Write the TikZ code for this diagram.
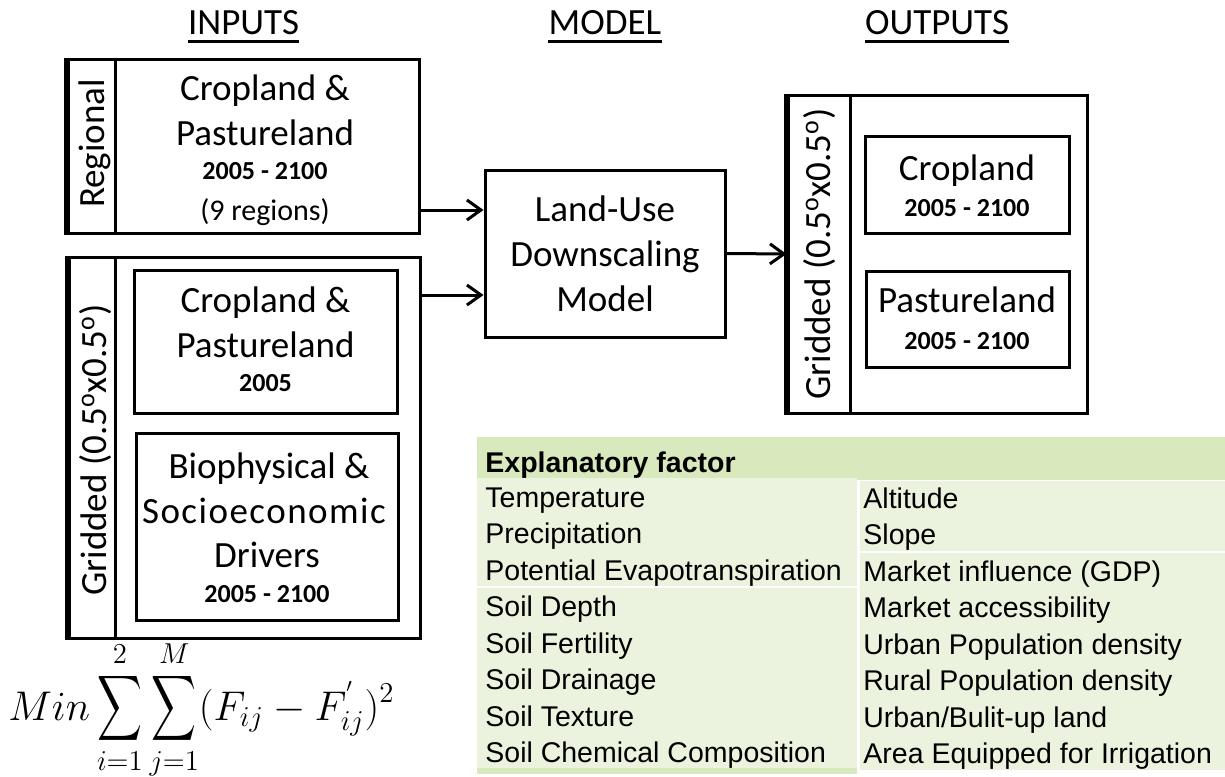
\documentclass[tikz,border=0pt]{standalone}
\usepackage{amsmath}
\usepackage{fontspec}
\setmainfont{Carlito}
\newfontfamily\tablefont{Liberation Sans}
\usetikzlibrary{arrows.meta,positioning}
\definecolor{hdrgreen}{RGB}{216,233,189}
\definecolor{cellgreen}{RGB}{235,243,222}
\newcommand{\bigsum}{\mathop{\scalebox{0.75}[1.1]{$\displaystyle\sum$}}\limits}

\begin{document}
\begin{tikzpicture}[x=0.5pt,y=-0.5pt,
  box/.style={draw,line width=1.5pt,rectangle,inner sep=0pt},
  big/.style={font=\fontsize{18.5}{22}\selectfont,inner sep=0pt,anchor=base},
  yr/.style={font=\fontsize{13}{15}\selectfont\bfseries,inner sep=0pt,anchor=base},
  sm/.style={font=\fontsize{15}{18}\selectfont,inner sep=0pt,anchor=base},
  side/.style={big,rotate=90,anchor=center},
  cell/.style={font=\tablefont\fontsize{14.25}{17}\selectfont,inner sep=0pt,anchor=base west},
  arr/.style={line width=1.5pt,-{Straight Barb[length=7pt,width=10pt]}}]
  \useasboundingbox (0,0) rectangle (1225,776);

  % --- Column titles ---
  \node[big] (tin)  at (243.5,34) {INPUTS};
  \node[big] (tmod) at (605,34)   {MODEL};
  \node[big] (tout) at (937,34)   {OUTPUTS};
  \foreach \t in {tin,tmod,tout}
    \draw[line width=1.3pt] ([yshift=-3.5pt]\t.south west) -- ([yshift=-3.5pt]\t.south east);

  % --- Inputs: regional ---
  \node[box,minimum width=175.5pt,minimum height=87pt] (regbox) at (243.5,146) {};
  \draw[line width=2.5pt] (regbox.north west) -- (regbox.south west);
  \draw[line width=1.5pt] ([xshift=24.5pt]regbox.north west) -- ([xshift=24.5pt]regbox.south west);
  \node[side] (lreg) at (95,143.5) {Regional};
  \node[big] (reg1) at (265,100) {Cropland \&};
  \node[big] (reg2) at (265,145) {Pastureland};
  \node[yr]  (reg3) at (265,179) {2005 - 2100};
  \node[sm]  (reg4) at (265,220) {(9 regions)};

  % --- Inputs: gridded ---
  \node[box,minimum width=175.5pt,minimum height=190.5pt] (gridbox) at (244.5,447.5) {};
  \draw[line width=2.5pt] (gridbox.north west) -- (gridbox.south west);
  \draw[line width=1.5pt] ([xshift=24pt]gridbox.north west) -- ([xshift=24pt]gridbox.south west);
  \node[side] (lgrid) at (96,450) {Gridded (0.5\textsuperscript{o}x0.5\textsuperscript{o})};
  \node[box,minimum width=131.5pt,minimum height=71.5pt] (cpbox) at (265.5,341.5) {};
  \node[big] (cp1) at (265.5,312) {Cropland \&};
  \node[big] (cp2) at (265.5,357) {Pastureland};
  \node[yr]  (cp3) at (265.5,391) {2005};
  \node[box,minimum width=131pt,minimum height=93.5pt] (drvbox) at (267,526.5) {};
  \node[big] (drv1) at (269,478) {Biophysical \&};
  \node[big,font=\fontsize{18.5}{22}\selectfont\addfontfeature{LetterSpace=4}] (drv2) at (264,523) {Socioeconomic};
  \node[big] (drv3) at (267,567) {Drivers};
  \node[yr]  (drv4) at (267,602) {2005 - 2100};

  % --- Model ---
  \node[box,minimum width=120pt,minimum height=83.5pt] (model) at (605,253.5) {};
  \node[big] (mod1) at (605,221) {Land-Use};
  \node[big] (mod2) at (605,266) {Downscaling};
  \node[big] (mod3) at (605,311) {Model};

  % --- Outputs ---
  \node[box,minimum width=149.5pt,minimum height=159pt] (outbox) at (937.5,254) {};
  \draw[line width=2.5pt] (outbox.north west) -- (outbox.south west);
  \draw[line width=1.5pt] ([xshift=32pt]outbox.north west) -- ([xshift=32pt]outbox.south west);
  \node[side] (lout) at (820,254) {Gridded (0.5\textsuperscript{o}x0.5\textsuperscript{o})};
  \node[box,minimum width=102pt,minimum height=48.5pt] (cropbox) at (967,184.5) {};
  \node[big] (crop1) at (967,180) {Cropland};
  \node[yr]  (crop2) at (967,216) {2005 - 2100};
  \node[box,minimum width=101.5pt,minimum height=48pt] (pastbox) at (967.5,319) {};
  \node[big] (past1) at (967,312) {Pastureland};
  \node[yr]  (past2) at (967,349) {2005 - 2100};

  % --- Connectors ---
  \coordinate (a1) at ([yshift=-32pt]regbox.east);
  \coordinate (a2) at ([yshift=76.25pt]gridbox.east);
  \draw[arr] (a1) -- (a1 -| model.west);
  \draw[arr] (a2) -- (a2 -| model.west);
  \draw[arr] (model.east) -- (outbox.west);

  % --- Objective ---
  \node[anchor=base west,inner sep=0pt,font=\fontsize{20}{24}\selectfont] (eq) at (8,720)
    {$\displaystyle Min\bigsum_{i=1}^{2}\bigsum_{j=1}^{M}(F_{ij}-F_{ij}^{'})^2$};

  % --- Explanatory factor table ---
  \fill[hdrgreen] (477,437) rectangle (1225,480);
  \fill[cellgreen] (477,478) rectangle (857,768);
  \fill[cellgreen] (860,481) rectangle (1225,770);
  \fill[hdrgreen] (477,768) rectangle (857,774);
  \draw[white,line width=1pt] (477,587) -- (857,587);
  \draw[white,line width=1pt] (860,552) -- (1225,552);
  \node[cell,font=\tablefont\fontsize{14.25}{17}\selectfont\bfseries] (hdr) at (485,472) {Explanatory factor};
  \foreach \i/\txt in {1/Temperature,2/Precipitation,3/Potential Evapotranspiration,
      4/Soil Depth,5/Soil Fertility,6/Soil Drainage,7/Soil Texture,8/Soil Chemical Composition}
    \node[cell] (l\i) at (485,{507+(\i-1)*36.5}) {\txt};
  \foreach \i/\txt in {1/Altitude,2/Slope,3/Market influence (GDP),4/Market accessibility,
      5/Urban Population density,6/Rural Population density,7/{Urban/Bulit-up land},
      8/Area Equipped for Irrigation}
    \node[cell] (r\i) at (863,{508+(\i-1)*36.5}) {\txt};
\end{tikzpicture}
\end{document}
